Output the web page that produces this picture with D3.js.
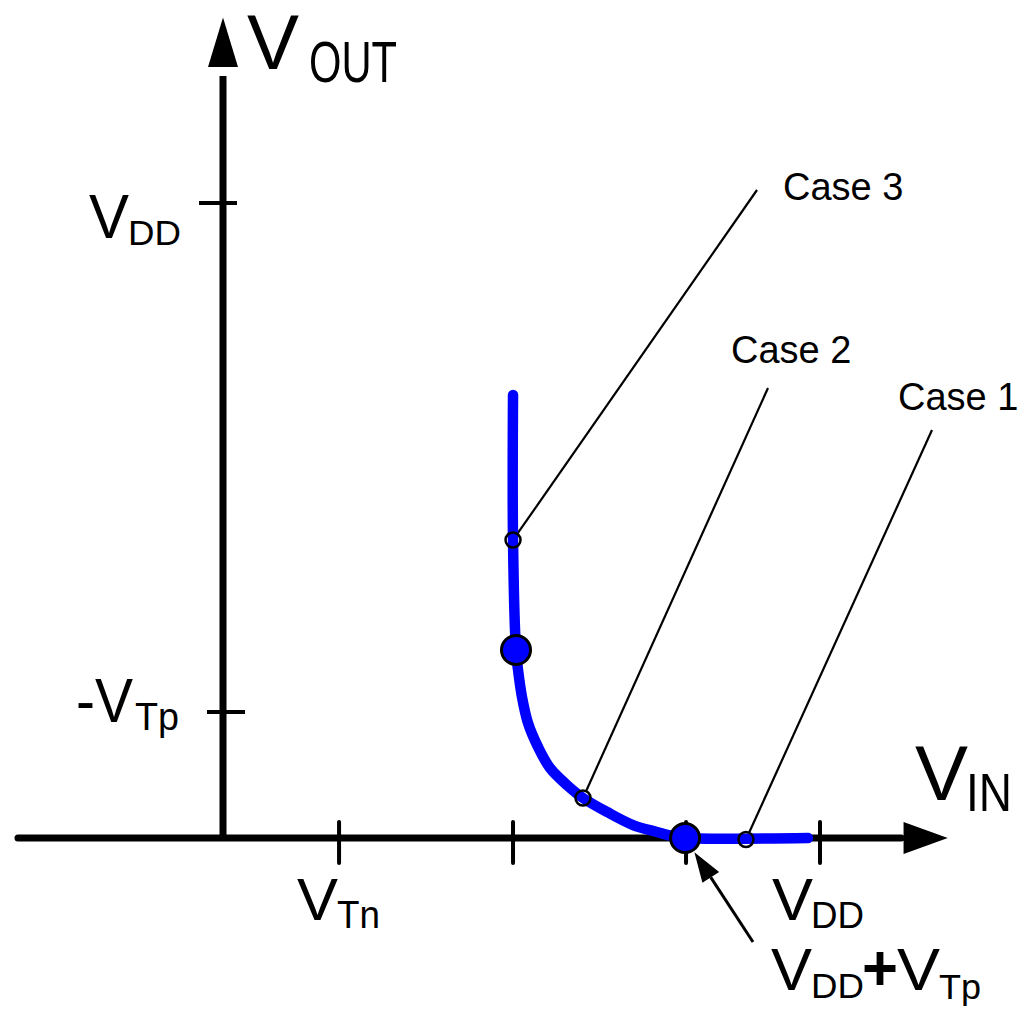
<!DOCTYPE html>
<html>
<head>
<meta charset="utf-8">
<script src="https://cdn.jsdelivr.net/npm/d3@7"></script>
<style>
  html, body { margin: 0; padding: 0; background: #fff; }
  svg { display: block; }
  text { font-family: "Liberation Sans", Arial, sans-serif; fill: #000; }
</style>
</head>
<body>
<svg id="chart" width="1023" height="1009"></svg>
<script>
// Input voltage (VIN) and output voltage (VOUT) in volts, VDD = 5
const vinTicks = [0.972, 2.429, 3.878, 5.0];   // VTn, onset, VDD+VTp, VDD
const voutTicks = [0.992, 5.0];                // -VTp, VDD

// Transfer curve samples
const curveVin  = [2.429, 2.429, 2.454, 2.471, 2.504, 2.554, 2.638, 2.739, 2.881, 3.015, 3.216, 3.434, 3.635, 3.760, 3.878, 4.899];
const curveVout = [3.488, 2.346, 1.480, 1.323, 1.110, 0.906, 0.717, 0.551, 0.417, 0.315, 0.205, 0.102, 0.047, 0.016, 0.000, 0.000];

// Operating points
const caseNames = ["Case 1", "Case 2", "Case 3"];
const caseVin   = [4.380, 3.015, 2.429];
const caseVout  = [-0.012, 0.315, 2.346];
const keyVin    = [2.454, 3.870];
const keyVout   = [1.480, 0.000];

const svg = d3.select("#chart");
const x = d3.scaleLinear().domain([0, 5]).range([223, 820]);
const y = d3.scaleLinear().domain([0, 5]).range([838, 203]);

// ---- axes ----
const ax = svg.append("g");
ax.append("line")
  .attr("x1", x(-1.717)).attr("y1", y(0)).attr("x2", x(5.68)).attr("y2", y(0))
  .attr("stroke", "#000").attr("stroke-width", 7).attr("stroke-linecap", "round");
ax.append("path")
  .attr("d", `M${x(6.07)},${y(0)} L${x(5.7)},${y(0) - 16} L${x(5.7)},${y(0) + 16} Z`)
  .attr("fill", "#000");
ax.append("line")
  .attr("x1", x(0)).attr("y1", y(0)).attr("x2", x(0)).attr("y2", y(6.0))
  .attr("stroke", "#000").attr("stroke-width", 7);
ax.append("path")
  .attr("d", `M${x(0)},${y(6.46)} L${x(0) - 15},${y(6.07)} L${x(0) + 15},${y(6.07)} Z`)
  .attr("fill", "#000");

ax.selectAll(".xt").data(vinTicks).join("line")
  .attr("x1", d => x(d)).attr("x2", d => x(d))
  .attr("y1", y(0) - 16).attr("y2", y(0) + 25)
  .attr("stroke", "#000").attr("stroke-width", 4).attr("stroke-linecap", "round");
const yTickSpan = [[-24, 14], [-16, 22]];
ax.selectAll(".yt").data(voutTicks).join("line")
  .attr("y1", d => y(d)).attr("y2", d => y(d))
  .attr("x1", (d, i) => x(0) + yTickSpan[voutTicks.length - 1 - i][0])
  .attr("x2", (d, i) => x(0) + yTickSpan[voutTicks.length - 1 - i][1])
  .attr("stroke", "#000").attr("stroke-width", 4);

// ---- curve ----
const pts = curveVin.map((v, i) => [v, curveVout[i]]);
const line = d3.line().x(d => x(d[0])).y(d => y(d[1])).curve(d3.curveCatmullRom.alpha(0.5));

// leader lines from the case labels
const caseLabelPos = [[932, 430, 898, 410], [768, 388, 731, 363], [757, 190, 783, 200]];
const leaders = svg.append("g");
caseNames.forEach((name, i) => {
  const px = x(caseVin[i]), py = y(caseVout[i]);
  const [lx, ly] = caseLabelPos[i];
  const dx = lx - px, dy = ly - py, L = Math.hypot(dx, dy);
  leaders.append("line")
    .attr("x1", lx).attr("y1", ly)
    .attr("x2", px + dx / L * 8).attr("y2", py + dy / L * 8)
    .attr("stroke", "#000").attr("stroke-width", 2.2);
});

svg.append("path").attr("d", line(pts))
  .attr("fill", "none").attr("stroke", "#0000ff")
  .attr("stroke-width", 10.5).attr("stroke-linecap", "round").attr("stroke-linejoin", "round");

// open markers at each case
svg.selectAll(".case").data(caseNames).join("circle")
  .attr("cx", (d, i) => x(caseVin[i])).attr("cy", (d, i) => y(caseVout[i]))
  .attr("r", 7.5).attr("fill", "none").attr("stroke", "#000").attr("stroke-width", 2.5);

// filled key points
svg.selectAll(".key").data(keyVin).join("circle")
  .attr("cx", d => x(d)).attr("cy", (d, i) => y(keyVout[i]))
  .attr("r", 14.5).attr("fill", "#0000ff").attr("stroke", "#000").attr("stroke-width", 3);

// pointer to the VDD+VTp point
{
  const px = x(keyVin[1]), py = y(keyVout[1]);
  const tx = 753, ty = 942;
  const dx = tx - px, dy = ty - py, L = Math.hypot(dx, dy);
  const ux = dx / L, uy = dy / L;
  const tipX = px + ux * 17, tipY = py + uy * 17;
  const bx = tipX + ux * 30, by = tipY + uy * 30;
  svg.append("line").attr("x1", tx).attr("y1", ty).attr("x2", bx).attr("y2", by)
    .attr("stroke", "#000").attr("stroke-width", 3);
  svg.append("path")
    .attr("d", `M${tipX},${tipY} L${bx - uy * 10},${by + ux * 10} L${bx + uy * 10},${by - ux * 10} Z`)
    .attr("fill", "#000");
}

// ---- text ----
function put(parts) {
  parts.forEach(p => {
    const t = svg.append("text")
      .attr("x", p[1]).attr("y", p[2])
      .attr("font-size", p[3])
      .text(p[0]);
    if (p[4]) t.attr("textLength", p[4]).attr("lengthAdjust", "spacingAndGlyphs");
    if (p[5]) t.attr("font-weight", p[5]);
  });
}

// axis titles
put([["V", 247, 69, 77, 52], ["OUT", 309, 82, 58, 88]]);
put([["V", 915, 800, 77, 53], ["IN", 966, 811, 54, 46]]);

// tick labels
put([["V", 89, 238, 63, 40], ["DD", 128, 245, 35, 53]]);
put([["-V", 76, 722, 63, 57], ["Tp", 135, 730, 39, 44]]);
put([["V", 297, 920, 60, 41], ["Tn", 337, 928, 39, 43]]);
put([["V", 772, 920, 60, 41], ["DD", 811, 928, 36, 53]]);
put([["V", 771, 990, 59, 41], ["DD", 811, 998, 35, 53], ["+", 862, 990, 64, 36, "bold"],
     ["V", 897, 990, 59, 43], ["Tp", 939, 999, 35, 42]]);

// case labels
caseNames.forEach((name, i) => {
  put([[name, caseLabelPos[i][2], caseLabelPos[i][3], 38]]);
});
</script>
</body>
</html>
